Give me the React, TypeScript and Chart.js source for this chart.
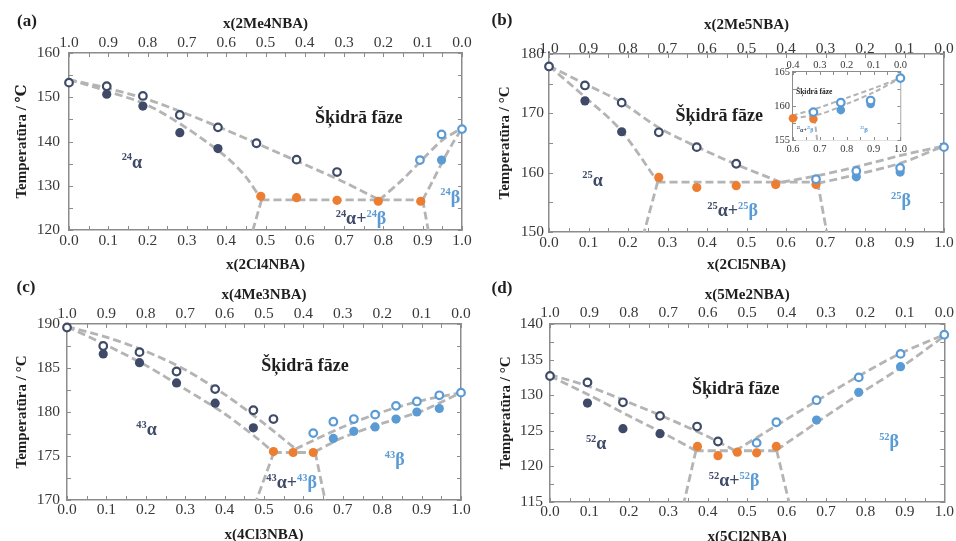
import React, { useEffect, useRef } from 'react';
import { Chart, registerables } from 'chart.js';

Chart.register(...registerables);

type P = [number, number];
type Part = { t: string; c: string; sup?: boolean };
type Lbl = { x: number; y: number; size: number; bold?: boolean; parts: Part[] };

const NAVY = '#3e4a68';
const BLUE = '#5b9bd5';
const ORANGE = '#ed7d31';
const GRAY = '#b4b4b4';
const FRAME = '#8c8c8c';
const TICKTXT = '#383838';
const TXT = '#1e1e1e';
const SERIF = '"Liberation Serif", "Times New Roman", "DejaVu Serif", serif';

const LIQUID = 'Šķidrā fāze';

// ---------- Panel (a): x(2Cl4NBA) / x(2Me4NBA) ----------
const aOpenAlpha: P[] = [[0, 153.3], [0.096, 152.5], [0.188, 150.3], [0.282, 146.0], [0.379, 143.2], [0.477, 139.6], [0.579, 135.9], [0.682, 133.1]];
const aFilledAlpha: P[] = [[0.096, 150.7], [0.188, 148.0], [0.282, 142.0], [0.379, 138.4]];
const aEutectic: P[] = [[0.488, 127.6], [0.579, 127.3], [0.682, 126.7], [0.787, 126.5], [0.895, 126.5]];
const aOpenBeta: P[] = [[0.893, 135.8], [0.948, 141.6], [1.0, 142.8]];
const aFilledBeta: P[] = [[0.948, 135.8]];
const aLiqAlpha: P[] = [[0, 154.0], [0.1, 152.0], [0.2, 149.5], [0.3, 146.2], [0.4, 142.6], [0.5, 138.7], [0.6, 134.8], [0.7, 130.8], [0.79, 126.8]];
const aSolAlpha: P[] = [[0, 154.0], [0.1, 151.3], [0.2, 148.2], [0.3, 143.0], [0.4, 136.5], [0.45, 132.0], [0.49, 126.8]];
const aEutLine: P[] = [[0.49, 126.8], [0.9, 126.8]];
const aLeftDown: P[] = [[0.49, 126.8], [0.468, 120]];
const aRightDown: P[] = [[0.9, 126.8], [0.914, 120]];
const aLiqBeta: P[] = [[0.79, 126.8], [0.85, 131.5], [0.9, 136.0], [0.95, 140.3], [1.0, 143.0]];
const aSolBeta: P[] = [[0.9, 126.8], [0.925, 131.0], [0.95, 135.4], [0.975, 139.4], [1.0, 143.0]];

// ---------- Panel (b): x(2Cl5NBA) / x(2Me5NBA) ----------
const bOpenAlpha: P[] = [[0, 177.9], [0.091, 174.7], [0.184, 171.8], [0.278, 166.8], [0.374, 164.3], [0.474, 161.5]];
const bFilledAlpha: P[] = [[0.091, 172.1], [0.184, 166.9]];
const bEutectic: P[] = [[0.278, 159.2], [0.374, 157.5], [0.474, 157.8], [0.574, 158.0], [0.676, 158.0]];
const bOpenBeta: P[] = [[0.676, 158.9], [0.778, 160.3], [0.889, 160.8], [1.0, 164.3]];
const bFilledBeta: P[] = [[0.778, 159.3], [0.889, 160.1]];
const bLiqAlpha: P[] = [[0, 178.0], [0.09, 175.0], [0.18, 172.0], [0.28, 167.5], [0.37, 164.5], [0.47, 161.5], [0.59, 158.3]];
const bSolAlpha: P[] = [[0, 178.0], [0.09, 172.8], [0.18, 167.3], [0.275, 158.5]];
const bEutLine: P[] = [[0.275, 158.4], [0.68, 158.4]];
const bLeftDown: P[] = [[0.275, 158.4], [0.241, 150]];
const bRightDown: P[] = [[0.68, 158.4], [0.703, 150]];
const bLiqBeta: P[] = [[0.59, 158.4], [0.68, 159.5], [0.78, 161.0], [0.89, 162.9], [1.0, 164.5]];
const bSolBeta: P[] = [[0.68, 158.2], [0.78, 159.7], [0.89, 161.6], [1.0, 164.5]];

// ---------- Inset of (b) ----------
const insEutectic: P[] = [[0.6, 158.2], [0.676, 158.1]];
const insOpenBeta: P[] = [[0.676, 159.1], [0.778, 160.5], [0.889, 160.8], [1.0, 164.1]];
const insFilledBeta: P[] = [[0.778, 159.4], [0.889, 160.3]];
const insLiq: P[] = [[0.6, 158.6], [0.7, 159.8], [0.8, 161.2], [0.9, 162.6], [1.0, 164.1]];
const insSol: P[] = [[0.6, 158.2], [0.7, 158.8], [0.8, 160.3], [0.9, 162.0], [1.0, 164.1]];
const insDown: P[] = [[0.68, 158.1], [0.69, 155]];

// ---------- Panel (c): x(4Cl3NBA) / x(4Me3NBA) ----------
const cOpenAlpha: P[] = [[0, 189.6], [0.092, 187.5], [0.184, 186.8], [0.278, 184.6], [0.376, 182.6], [0.473, 180.2], [0.524, 179.2]];
const cFilledAlpha: P[] = [[0.092, 186.6], [0.184, 185.6], [0.278, 183.3], [0.376, 181.0], [0.473, 178.2]];
const cEutectic: P[] = [[0.524, 175.5], [0.574, 175.4], [0.625, 175.4]];
const cOpenBeta: P[] = [[0.625, 177.6], [0.676, 178.9], [0.728, 179.2], [0.782, 179.7], [0.835, 180.7], [0.888, 181.2], [0.945, 181.9], [1.0, 182.2]];
const cFilledBeta: P[] = [[0.676, 177.0], [0.728, 177.8], [0.782, 178.3], [0.835, 179.2], [0.888, 180.0], [0.945, 180.4]];
const cLiqAlpha: P[] = [[0, 189.7], [0.1, 188.5], [0.2, 186.9], [0.3, 184.8], [0.4, 182.0], [0.5, 178.7], [0.58, 175.8]];
const cSolAlpha: P[] = [[0, 189.7], [0.1, 187.6], [0.2, 185.3], [0.3, 182.6], [0.4, 179.8], [0.48, 177.1], [0.525, 175.4]];
const cEutLine: P[] = [[0.525, 175.4], [0.63, 175.4]];
const cLeftDown: P[] = [[0.525, 175.4], [0.481, 170]];
const cRightDown: P[] = [[0.63, 175.4], [0.655, 170]];
const cLiqBeta: P[] = [[0.58, 175.8], [0.7, 178.3], [0.8, 180.0], [0.9, 181.3], [1.0, 182.2]];
const cSolBeta: P[] = [[0.63, 175.5], [0.7, 177.1], [0.8, 178.7], [0.9, 180.1], [1.0, 182.2]];

// ---------- Panel (d): x(5Cl2NBA) / x(5Me2NBA) ----------
const dOpenAlpha: P[] = [[0, 132.7], [0.095, 131.8], [0.185, 129.0], [0.279, 127.1], [0.373, 125.6], [0.426, 123.5]];
const dFilledAlpha: P[] = [[0.095, 128.9], [0.185, 125.3], [0.279, 124.6]];
const dEutectic: P[] = [[0.374, 122.8], [0.426, 121.5], [0.475, 122.0], [0.524, 121.9], [0.574, 122.8]];
const dOpenBeta: P[] = [[0.524, 123.3], [0.574, 126.2], [0.676, 129.3], [0.783, 132.5], [0.889, 135.8], [1.0, 138.5]];
const dFilledBeta: P[] = [[0.676, 126.5], [0.783, 130.4], [0.889, 134.0]];
const dLiqAlpha: P[] = [[0, 132.9], [0.1, 131.2], [0.2, 129.0], [0.3, 126.7], [0.4, 124.2], [0.47, 122.2]];
const dSolAlpha: P[] = [[0, 132.7], [0.1, 130.0], [0.2, 127.1], [0.3, 124.3], [0.37, 122.2]];
const dEutLine: P[] = [[0.37, 122.2], [0.575, 122.2]];
const dLeftDown: P[] = [[0.37, 122.2], [0.34, 115]];
const dRightDown: P[] = [[0.575, 122.2], [0.606, 115]];
const dLiqBeta: P[] = [[0.47, 122.2], [0.57, 125.6], [0.67, 129.0], [0.78, 132.6], [0.89, 135.9], [1.0, 138.5]];
const dSolBeta: P[] = [[0.575, 122.3], [0.68, 126.3], [0.78, 130.0], [0.89, 133.9], [1.0, 138.3]];

// ---------- text ----------
const alphaParts = (n: string): Part[] => [{ t: n, c: NAVY, sup: true }, { t: 'α', c: NAVY }];
const betaParts = (n: string): Part[] => [{ t: n, c: BLUE, sup: true }, { t: 'β', c: BLUE }];
const mixParts = (n: string): Part[] => [...alphaParts(n), { t: '+', c: NAVY }, ...betaParts(n)];

const aLabels: Lbl[] = [
  { x: 0.737, y: 145.5, size: 18, bold: true, parts: [{ t: LIQUID, c: TXT }] },
  { x: 0.16, y: 135.4, size: 18, bold: true, parts: alphaParts('24') },
  { x: 0.743, y: 122.7, size: 18, bold: true, parts: mixParts('24') },
  { x: 0.97, y: 127.5, size: 18, bold: true, parts: betaParts('24') },
];
const bLabels: Lbl[] = [
  { x: 0.431, y: 169.7, size: 18, bold: true, parts: [{ t: LIQUID, c: TXT }] },
  { x: 0.11, y: 158.8, size: 18, bold: true, parts: alphaParts('25') },
  { x: 0.465, y: 153.6, size: 18, bold: true, parts: mixParts('25') },
  { x: 0.891, y: 155.4, size: 18, bold: true, parts: betaParts('25') },
];
const insLabels: Lbl[] = [
  { x: 0.679, y: 162.1, size: 7.5, bold: true, parts: [{ t: LIQUID, c: TXT }] },
  { x: 0.645, y: 156.5, size: 6, bold: true, parts: mixParts('25') },
  { x: 0.865, y: 156.5, size: 7, bold: true, parts: betaParts('25') },
];
const cLabels: Lbl[] = [
  { x: 0.604, y: 185.3, size: 18, bold: true, parts: [{ t: LIQUID, c: TXT }] },
  { x: 0.202, y: 178.0, size: 18, bold: true, parts: alphaParts('43') },
  { x: 0.57, y: 172.0, size: 18, bold: true, parts: mixParts('43') },
  { x: 0.832, y: 174.6, size: 18, bold: true, parts: betaParts('43') },
];
const dLabels: Lbl[] = [
  { x: 0.471, y: 131.0, size: 18, bold: true, parts: [{ t: LIQUID, c: TXT }] },
  { x: 0.117, y: 123.2, size: 18, bold: true, parts: alphaParts('52') },
  { x: 0.467, y: 118.0, size: 18, bold: true, parts: mixParts('52') },
  { x: 0.86, y: 123.5, size: 18, bold: true, parts: betaParts('52') },
];

type Series = { pts: P[]; kind: 'open' | 'filled' | 'line'; color?: string };

interface Spec {
  box: { left: number; top: number; w: number; h: number };
  sizes: { l: number; r: number; t: number; b: number };
  x: [number, number, number, number]; // min, max, step, minor
  y: [number, number, number, number];
  tickFont: number;
  pad: { bottom: number; top: number; left: number };
  titles?: { bottom: string; top: string; y: string; padB: number; padT: number; padY: number };
  letter?: { text: string; x: number; y: number };
  series: Series[];
  labels: Lbl[];
  small?: boolean;
  whiteArea?: boolean;
}

function stdSeries(openA: P[], filledA: P[], eut: P[], openB: P[], filledB: P[], lines: P[][]): Series[] {
  return [
    ...lines.map((pts) => ({ pts, kind: 'line' as const })),
    { pts: filledA, kind: 'filled', color: NAVY },
    { pts: eut, kind: 'filled', color: ORANGE },
    { pts: filledB, kind: 'filled', color: BLUE },
    { pts: openA, kind: 'open', color: NAVY },
    { pts: openB, kind: 'open', color: BLUE },
  ];
}

const specs: Spec[] = [
  {
    box: { left: 0, top: 0, w: 478, h: 280 },
    sizes: { l: 69, r: 16, t: 53, b: 50 },
    x: [0, 1, 0.1, 0.05], y: [120, 160, 10, 5], tickFont: 15.5,
    pad: { bottom: 2, top: 1, left: 9 },
    titles: { bottom: 'x(2Cl4NBA)', top: 'x(2Me4NBA)', y: 'Temperatūra / ℃', padB: 6, padT: 15, padY: 13 },
    letter: { text: '(a)', x: 27, y: 22 },
    series: stdSeries(aOpenAlpha, aFilledAlpha, aEutectic, aOpenBeta, aFilledBeta, [aLiqAlpha, aSolAlpha, aEutLine, aLeftDown, aRightDown, aLiqBeta, aSolBeta]),
    labels: aLabels,
  },
  {
    box: { left: 476, top: 0, w: 480, h: 280 },
    sizes: { l: 73, r: 12, t: 54, b: 48 },
    x: [0, 1, 0.1, 0.05], y: [150, 180, 10, 5], tickFont: 15.5,
    pad: { bottom: 2, top: -4, left: 5 },
    titles: { bottom: 'x(2Cl5NBA)', top: 'x(2Me5NBA)', y: 'Temperatūra / °C', padB: 6, padT: 16, padY: 20 },
    letter: { text: '(b)', x: 26, y: 21 },
    series: stdSeries(bOpenAlpha, bFilledAlpha, bEutectic, bOpenBeta, bFilledBeta, [bLiqAlpha, bSolAlpha, bEutLine, bLeftDown, bRightDown, bLiqBeta, bSolBeta]),
    labels: bLabels,
  },
  {
    box: { left: 0, top: 270, w: 478, h: 280 },
    sizes: { l: 67, r: 17, t: 54, b: 50 },
    x: [0, 1, 0.1, 0.05], y: [170, 190, 5, 2.5], tickFont: 15.5,
    pad: { bottom: 1, top: 1, left: 7 },
    titles: { bottom: 'x(4Cl3NBA)', top: 'x(4Me3NBA)', y: 'Temperatūra / °C', padB: 6, padT: 16, padY: 13 },
    letter: { text: '(c)', x: 26, y: 18 },
    series: stdSeries(cOpenAlpha, cFilledAlpha, cEutectic, cOpenBeta, cFilledBeta, [cLiqAlpha, cSolAlpha, cEutLine, cLeftDown, cRightDown, cLiqBeta, cSolBeta]),
    labels: cLabels,
  },
  {
    box: { left: 476, top: 270, w: 480, h: 280 },
    sizes: { l: 74, r: 11, t: 54, b: 48 },
    x: [0, 1, 0.1, 0.05], y: [115, 140, 5, 2.5], tickFont: 15.5,
    pad: { bottom: 1, top: 2, left: 7 },
    titles: { bottom: 'x(5Cl2NBA)', top: 'x(5Me2NBA)', y: 'Temperatūra / °C', padB: 4, padT: 16, padY: 21 },
    letter: { text: '(d)', x: 26, y: 19 },
    series: stdSeries(dOpenAlpha, dFilledAlpha, dEutectic, dOpenBeta, dFilledBeta, [dLiqAlpha, dSolAlpha, dEutLine, dLeftDown, dRightDown, dLiqBeta, dSolBeta]),
    labels: dLabels,
  },
  {
    box: { left: 760, top: 52, w: 150, h: 108 },
    sizes: { l: 33, r: 6, t: 20, b: 20 },
    x: [0.6, 1, 0.1, 0.05], y: [155, 165, 5, 2.5], tickFont: 10.5,
    pad: { bottom: 3, top: 0, left: 3 },
    series: [
      { pts: insLiq, kind: 'line' },
      { pts: insSol, kind: 'line' },
      { pts: insDown, kind: 'line' },
      { pts: insFilledBeta, kind: 'filled', color: BLUE },
      { pts: insEutectic, kind: 'filled', color: ORANGE },
      { pts: insOpenBeta, kind: 'open', color: BLUE },
    ],
    labels: insLabels,
    small: true,
    whiteArea: true,
  },
];

function drawRich(ctx: CanvasRenderingContext2D, cx: number, cy: number, l: Lbl) {
  const w = l.bold ? 'bold ' : '';
  const supSize = l.size * 0.58;
  const widths = l.parts.map((p) => {
    ctx.font = `${w}${p.sup ? supSize : l.size}px ${SERIF}`;
    return ctx.measureText(p.t).width;
  });
  const total = widths.reduce((a, b) => a + b, 0);
  let x = cx - total / 2;
  const baseline = cy + l.size * 0.32;
  ctx.textAlign = 'left';
  ctx.textBaseline = 'alphabetic';
  l.parts.forEach((p, i) => {
    ctx.font = `${w}${p.sup ? supSize : l.size}px ${SERIF}`;
    ctx.fillStyle = p.c;
    ctx.fillText(p.t, x, p.sup ? baseline - l.size * 0.4 : baseline);
    x += widths[i];
  });
}

function makeDecor(spec: Spec) {
  return {
    id: 'decor',
    beforeDatasetsDraw(chart: any) {
      const ctx: CanvasRenderingContext2D = chart.ctx;
      const { left, right, top, bottom } = chart.chartArea;
      if (spec.whiteArea) {
        ctx.save();
        ctx.fillStyle = '#ffffff';
        ctx.fillRect(left, top, right - left, bottom - top);
        ctx.restore();
      }
      const xs = chart.scales.x;
      const ys = chart.scales.y;
      const L = spec.small ? 3 : 4;
      ctx.save();
      ctx.strokeStyle = FRAME;
      ctx.lineWidth = 1;
      ctx.beginPath();
      const [x0, x1, , xm] = spec.x;
      const nx = Math.round((x1 - x0) / xm);
      for (let i = 0; i <= nx; i++) {
        const px = Math.round(xs.getPixelForValue(x0 + i * xm)) + 0.5;
        ctx.moveTo(px, bottom);
        ctx.lineTo(px, bottom - L);
        ctx.moveTo(px, top);
        ctx.lineTo(px, top + L);
      }
      const [y0, y1, , ym] = spec.y;
      const ny = Math.round((y1 - y0) / ym);
      for (let i = 0; i <= ny; i++) {
        const py = Math.round(ys.getPixelForValue(y0 + i * ym)) + 0.5;
        ctx.moveTo(left, py);
        ctx.lineTo(left + L, py);
        ctx.moveTo(right, py);
        ctx.lineTo(right - L, py);
      }
      ctx.stroke();
      ctx.restore();
    },
    afterDraw(chart: any) {
      const ctx: CanvasRenderingContext2D = chart.ctx;
      const xs = chart.scales.x;
      const ys = chart.scales.y;
      ctx.save();
      spec.labels.forEach((l) => drawRich(ctx, xs.getPixelForValue(l.x), ys.getPixelForValue(l.y), l));
      if (spec.letter) {
        ctx.font = `bold 17px ${SERIF}`;
        ctx.fillStyle = TXT;
        ctx.textAlign = 'center';
        ctx.textBaseline = 'middle';
        ctx.fillText(spec.letter.text, spec.letter.x, spec.letter.y);
      }
      ctx.restore();
    },
  };
}

function makeConfig(spec: Spec): any {
  const small = !!spec.small;
  const datasets = spec.series.map((s) => {
    const data = s.pts.map(([x, y]) => ({ x, y }));
    if (s.kind === 'line') {
      return {
        data, showLine: true, borderColor: GRAY, borderWidth: small ? 2 : 2.8,
        borderDash: small ? [5, 3] : [8, 4], pointRadius: 0, pointHoverRadius: 0,
        tension: 0.3, fill: false, order: 10,
      };
    }
    if (s.kind === 'open') {
      return {
        data, showLine: false, pointRadius: 3.8, pointBorderWidth: 2.2,
        pointBackgroundColor: '#ffffff', pointBorderColor: s.color, order: 1, clip: false,
      };
    }
    return {
      data, showLine: false, pointRadius: small ? 4.3 : 4.6, pointBorderWidth: 0,
      pointBackgroundColor: s.color, pointBorderColor: s.color, order: 2, clip: false,
    };
  });
  const tickFont = { family: SERIF, size: spec.tickFont };
  const titleFont = { family: SERIF, size: 15, weight: 'bold' as const };
  const border = { display: true, color: FRAME, width: small ? 1.2 : 1.5 };
  const grid = { display: false, drawTicks: false };
  const t = spec.titles;
  const fmt = (v: any) => Number(v).toFixed(1);
  return {
    type: 'scatter',
    data: { datasets },
    options: {
      animation: false,
      responsive: false,
      maintainAspectRatio: false,
      devicePixelRatio: 1,
      events: [],
      layout: { padding: 0 },
      plugins: { legend: { display: false }, tooltip: { enabled: false } },
      scales: {
        x: {
          type: 'linear', position: 'bottom', min: spec.x[0], max: spec.x[1],
          ticks: { stepSize: spec.x[2], font: tickFont, color: TICKTXT, padding: spec.pad.bottom, callback: fmt, maxRotation: 0, autoSkip: false },
          grid, border,
          title: t ? { display: true, text: t.bottom, font: titleFont, color: TXT, padding: { top: 0, bottom: t.padB } } : { display: false },
          afterFit: (s: any) => { s.height = spec.sizes.b; },
        },
        x2: {
          type: 'linear', position: 'top', reverse: true, min: 1 - spec.x[1], max: 1 - spec.x[0],
          ticks: { stepSize: spec.x[2], font: tickFont, color: TICKTXT, padding: spec.pad.top, callback: fmt, maxRotation: 0, autoSkip: false },
          grid, border,
          title: t ? { display: true, text: t.top, font: titleFont, color: TXT, padding: { top: t.padT, bottom: 0 } } : { display: false },
          afterFit: (s: any) => { s.height = spec.sizes.t; },
        },
        y: {
          type: 'linear', position: 'left', min: spec.y[0], max: spec.y[1],
          ticks: { stepSize: spec.y[2], font: tickFont, color: TICKTXT, padding: spec.pad.left, callback: (v: any) => String(v) },
          grid, border,
          title: t ? { display: true, text: t.y, font: titleFont, color: TXT, padding: { top: t.padY, bottom: 0 } } : { display: false },
          afterFit: (s: any) => { s.width = spec.sizes.l; },
        },
        y2: {
          type: 'linear', position: 'right', min: spec.y[0], max: spec.y[1],
          ticks: { display: false },
          grid, border,
          afterFit: (s: any) => { s.width = spec.sizes.r; },
        },
      },
    },
    plugins: [makeDecor(spec)],
  };
}

function Panel({ spec }: { spec: Spec }) {
  const ref = useRef<HTMLCanvasElement>(null);
  useEffect(() => {
    if (!ref.current) return;
    const chart = new Chart(ref.current, makeConfig(spec));
    return () => chart.destroy();
  }, [spec]);
  const { left, top, w, h } = spec.box;
  return (
    <canvas
      ref={ref}
      width={w}
      height={h}
      style={{ position: 'absolute', left, top, width: w, height: h, display: 'block' }}
    />
  );
}

export default function App() {
  return (
    <div style={{ position: 'absolute', left: 0, top: 0, width: 956, height: 541, overflow: 'hidden', background: '#ffffff' }}>
      {specs.map((s, i) => (
        <Panel key={i} spec={s} />
      ))}
    </div>
  );
}
